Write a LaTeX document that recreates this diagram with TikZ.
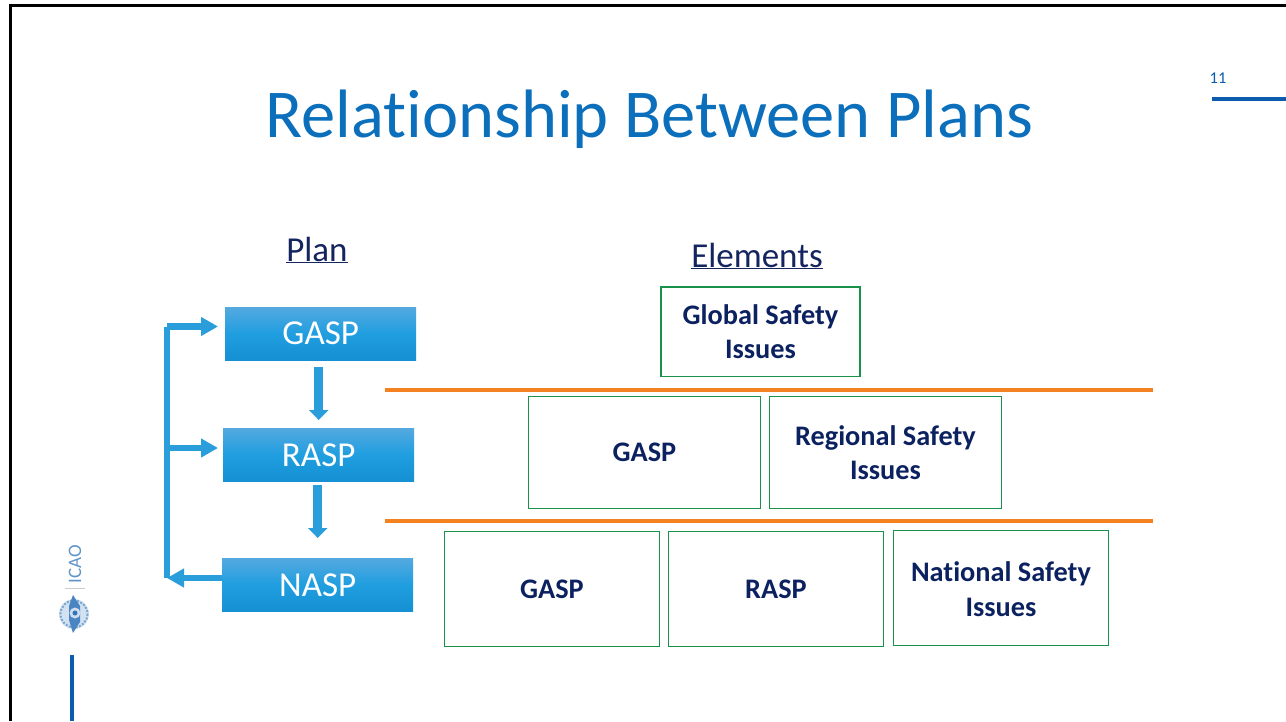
\documentclass[tikz,border=0pt]{standalone}
\usepackage{fontspec}
\setmainfont[Ligatures=NoCommon]{Carlito}
\usetikzlibrary{arrows.meta,calc,shadings}
\definecolor{titleblue}{HTML}{0B6FBC}
\definecolor{ruleblue}{HTML}{0B5CAD}
\definecolor{arrowblue}{HTML}{2A9DDB}
\definecolor{boxtop}{HTML}{55A9DF}
\definecolor{boxmid}{HTML}{1F9EE0}
\definecolor{boxbot}{HTML}{1590D2}
\definecolor{navytext}{HTML}{0C2260}
\definecolor{headtext}{HTML}{14245F}
\definecolor{greenline}{HTML}{1A9148}
\definecolor{orangeline}{HTML}{F58220}
\newcommand{\dropby}[2]{\raisebox{-#1pt}{#2}}
\tikzset{
  x=1pt,y=-1pt,
  planbox/.style={rectangle,minimum width=191pt,minimum height=53.5pt,inner sep=0pt,anchor=north west,
    top color=boxtop,bottom color=boxbot,middle color=boxmid,text=white,font=\fontsize{35}{36}\selectfont},
  elembox/.style={rectangle,draw=greenline,line width=1.4pt,inner sep=0pt,anchor=north west,align=center,
    text=navytext,font=\fontsize{28.3}{34.5}\selectfont\bfseries},
  head/.style={text=headtext,inner sep=0pt,font=\fontsize{35}{38}\selectfont},
  flowdown/.style={draw=arrowblue,line width=9.5pt,-{Triangle[length=10pt,width=19pt]}},
  flowside/.style={draw=arrowblue,line width=6.3pt,-{Triangle[length=17pt,width=18pt]}},
  trunk/.style={draw=arrowblue,line width=6pt},
  divider/.style={draw=orangeline,line width=4pt},
  rulebar/.style={draw=ruleblue,line width=4pt}
}
\begin{document}
\begin{tikzpicture}
\useasboundingbox (0,0) rectangle (1286,721);
\fill[white] (0,0) rectangle (1286,721);
% slide frame
\draw[black,line width=3pt] (10,721) -- (10,5.5) -- (1286,5.5);
% title
\node[text=titleblue,inner sep=0pt,font=\fontsize{68.5}{72}\selectfont] (title) at (649.5,119.5) {Relationship Between Plans};
\node[text=ruleblue,inner sep=0pt,font=\fontsize{16.5}{18}\selectfont] (pagenum) at (1218,78) {11};
\draw[rulebar] (1212,99) -- (1286,99);
\draw[rulebar] (72,655) -- (72,721);
% logo
\node[rotate=90,text=ruleblue!65!white,inner sep=0pt,font=\fontsize{19}{22}\selectfont] (icao) at (75,564) {ICAO};
\draw[gray!40,line width=.7pt] (65,588.5) -- (85,588.5);
\fill[ruleblue!18!white] (74,614) circle (15);
\draw[ruleblue!55!white,line width=2pt,dash pattern=on 2pt off 1.5pt] (74,614) circle (13.5);
\fill[ruleblue!75!white] (73,595) -- (80,606) -- (80,622) -- (73,633) -- (69,620) -- (69,606) -- cycle;
\fill[ruleblue!20!white] (75,613) circle (5.5);
\fill[ruleblue!85!white] (75,613) circle (2.5);
% headings
\node[head] (plan) at (317,250) {\underline{Plan}};
\node[head] (elements) at (757,256) {\underline{Elements}};
% plan boxes
\node[planbox,minimum height=53pt] (gasp) at (225,307) {\dropby{1}{GASP}};
\node[planbox] (rasp) at (223,428) {\dropby{1}{RASP}};
\node[planbox] (nasp) at (222,558) {\dropby{1}{NASP}};
% arrows
\draw[flowdown] ($(rasp.north |- gasp.south)+(0,7)$) -- ([yshift=8pt]rasp.north);
\draw[flowdown] ($(nasp.north |- rasp.south)+(0,3)$) -- ([yshift=20pt]nasp.north);
\coordinate (trunktop) at (167,326.5);
\coordinate (trunkmid) at (167,448);
\coordinate (trunkbot) at (167,578);
\draw[trunk] (trunktop) -- (trunkbot);
\draw[flowside] (trunktop) -- ([xshift=-7pt]trunktop -| gasp.west);
\draw[flowside] (trunkmid) -- ([xshift=-5pt]trunkmid -| rasp.west);
\draw[flowside] (nasp.west |- trunkbot) -- (trunkbot);
% dividers
\coordinate (d1a) at (385,389.5); \coordinate (d1b) at (1153,389.5);
\coordinate (d2a) at (385,521); \coordinate (d2b) at (1153,521);
\draw[divider] (d1a) -- (d1b);
\draw[divider] (d2a) -- (d2b);
% element boxes
\node[elembox,minimum width=231.5pt,minimum height=112pt] (g2) at (528,396) {\dropby{0.5}{GASP}};
\node[elembox,draw=none,minimum width=197.5pt,minimum height=88pt] (globalbox) at (661,287) {Global Safety\\Issues};
\draw[greenline,line width=1.4pt] (globalbox.north west) rectangle (globalbox.south east);
\node[elembox,minimum width=231.5pt,minimum height=112pt] (regional) at (769,396) {Regional Safety\\Issues};
\node[elembox,minimum width=214.5pt,minimum height=115pt] (g3) at (444,531) {\dropby{1.5}{GASP}};
\node[elembox,minimum width=214.5pt,minimum height=115pt] (r3) at (668,531) {\dropby{1}{RASP}};
\node[elembox,minimum width=214.5pt,minimum height=115pt] (national) at (893,530) {\rule{0pt}{22pt}National Safety\\Issues};
\end{tikzpicture}
\end{document}
